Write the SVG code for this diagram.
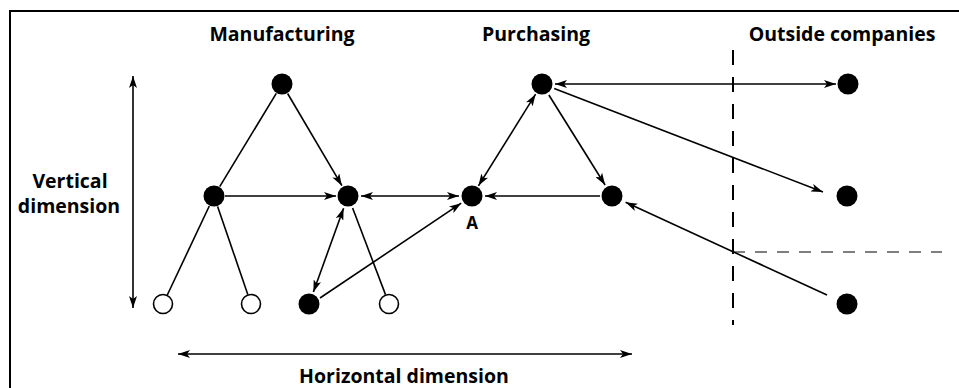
<svg xmlns="http://www.w3.org/2000/svg" width="959" height="388" viewBox="0 0 959 388">
<style>
.lbl{font-family:"Open Sans","Liberation Sans",sans-serif;font-weight:700;font-size:19.5px;fill:#000}
.e{stroke:#000;stroke-width:1.6;fill:none}
.a{marker-end:url(#ah)}
.b{marker-start:url(#ah);marker-end:url(#ah)}
.f{fill:#000}
.o{fill:#fff;stroke:#000;stroke-width:1.6}
</style>
<defs>
<marker id="ah" viewBox="0 0 12 8" refX="12" refY="4" markerWidth="12" markerHeight="8" markerUnits="userSpaceOnUse" orient="auto-start-reverse">
<path d="M0,0 L12,4 L0,8 L3,4 Z" fill="#000"/>
</marker>
</defs>
<rect width="959" height="388" fill="#fff"/>
<g id="frame">
<path d="M10,388 V11 H959" stroke="#000" stroke-width="2" fill="none"/>
</g>
<g id="labels">
<text class="lbl" x="282" y="41" text-anchor="middle">Manufacturing</text>
<text class="lbl" x="536" y="41" text-anchor="middle">Purchasing</text>
<text class="lbl" x="842" y="41" text-anchor="middle">Outside companies</text>
<text class="lbl" x="70" y="188" text-anchor="middle">Vertical</text>
<text class="lbl" x="69" y="213" text-anchor="middle">dimension</text>
<text class="lbl" x="404" y="383" text-anchor="middle">Horizontal dimension</text>
</g>
<g id="dividers">
<line x1="733" y1="50" x2="733" y2="325" stroke="#000" stroke-width="2" stroke-dasharray="15,12"/>
<line x1="733" y1="252" x2="942" y2="252" stroke="#555" stroke-width="1.5" stroke-dasharray="12,10"/>
</g>
<g id="connectors">
<line class="e b" x1="133" y1="76" x2="133" y2="308"/>
<line class="e b" x1="178" y1="354" x2="632" y2="354"/>
<line class="e" x1="276.3" y1="93.4" x2="219.7" y2="186.6"/>
<line class="e a" x1="287.6" y1="93.5" x2="341.9" y2="185.7"/>
<line class="e a" x1="225" y1="196" x2="336" y2="196"/>
<line class="e b" x1="361" y1="196" x2="459" y2="196"/>
<line class="e" x1="209.3" y1="206" x2="167.3" y2="295"/>
<line class="e" x1="217.6" y1="206.4" x2="247.8" y2="294.5"/>
<line class="e b" x1="343.6" y1="208.2" x2="313.4" y2="292"/>
<line class="e" x1="352.6" y1="208" x2="385.5" y2="294.6"/>
<line class="e a" x1="320" y1="298" x2="461.2" y2="203.2"/>
<line class="e b" x1="478.4" y1="185.8" x2="535.6" y2="94.2"/>
<line class="e a" x1="548.9" y1="95" x2="605.1" y2="185"/>
<line class="e a" x1="600" y1="196" x2="485" y2="196"/>
<line class="e b" x1="555" y1="84" x2="836" y2="84"/>
<line class="e a" x1="554.2" y1="88.5" x2="823" y2="192"/>
<line class="e a" x1="827" y1="295" x2="625.6" y2="202.3"/>
</g>
<g id="node-m-top"><circle class="f" cx="282" cy="84" r="10.5"/></g>
<g id="node-m-left"><circle class="f" cx="214" cy="196" r="10.5"/></g>
<g id="node-m-center"><circle class="f" cx="348" cy="196" r="10.5"/></g>
<g id="node-a"><circle class="f" cx="472" cy="196" r="10.5"/><text class="lbl" x="472" y="229" text-anchor="middle" style="font-size:17px">A</text></g>
<g id="node-p-top"><circle class="f" cx="542" cy="84" r="10.5"/></g>
<g id="node-p-right"><circle class="f" cx="612" cy="196" r="10.5"/></g>
<g id="node-o-top"><circle class="f" cx="848" cy="84" r="10.5"/></g>
<g id="node-o-mid"><circle class="f" cx="847" cy="196" r="10.5"/></g>
<g id="node-o-bottom"><circle class="f" cx="847" cy="304" r="10.5"/></g>
<g id="node-b1"><circle class="o" cx="163" cy="304" r="9.5"/></g>
<g id="node-b2"><circle class="o" cx="251" cy="304" r="9.5"/></g>
<g id="node-b3"><circle class="f" cx="309" cy="304" r="10.5"/></g>
<g id="node-b4"><circle class="o" cx="389" cy="304" r="9.5"/></g>
</svg>
